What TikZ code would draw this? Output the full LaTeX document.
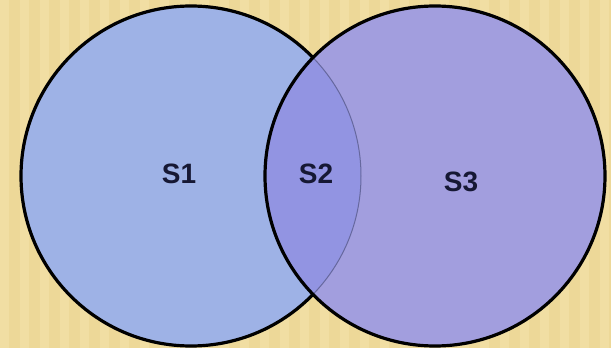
\documentclass[tikz,border=0pt]{standalone}
\usepackage{fontspec}
\setmainfont{Liberation Sans}
\usepackage{tikz}
\usetikzlibrary{positioning,calc}
\definecolor{bgsand}{RGB}{237,216,152}
\definecolor{bglight}{RGB}{246,230,178}
\definecolor{setleft}{RGB}{158,178,230}
\definecolor{setright}{RGB}{162,158,222}
\definecolor{setboth}{RGB}{146,148,226}
\definecolor{labelink}{RGB}{22,24,52}
\tikzset{
  setlabel/.style={font=\fontsize{28}{32}\selectfont\bfseries, text=labelink, inner sep=0pt},
  setedge/.style={line width=3.2pt, black}
}

\begin{document}
\begin{tikzpicture}[x=1pt,y=-1pt]
\useasboundingbox (0,0) rectangle (611,348);

% Background with soft vertical stripes
\fill[bgsand] (0,0) rectangle (611,348);
\foreach \x in {0,20,...,600}
  \fill[bglight, opacity=0.45] (\x,0) rectangle ++(9,348);

% Set centres
\coordinate (C1) at (191,176);   % centre of left set
\coordinate (C3) at (435,176);   % centre of right set

% Left set
\fill[setleft] (C1) circle (170pt);
\draw[setedge] (C1) circle (170pt);

% Right set
\fill[setright] (C3) circle (170pt);

% Overlap of both sets
\begin{scope}
  \clip (C1) circle (170pt);
  \fill[setboth] (C3) circle (170pt);
\end{scope}

% Left edge seen through the right set
\begin{scope}
  \clip (C3) circle (170pt);
  \draw[line width=1pt, black!30!setboth] (C1) circle (170pt);
\end{scope}
\draw[setedge] (C3) circle (170pt);

% Labels
\node[setlabel] (s1) at (179,174) {S1};
\node[setlabel] (s2) at (316,174) {S2};
\node[setlabel] (s3) at (461,182) {S3};

\end{tikzpicture}
\end{document}
